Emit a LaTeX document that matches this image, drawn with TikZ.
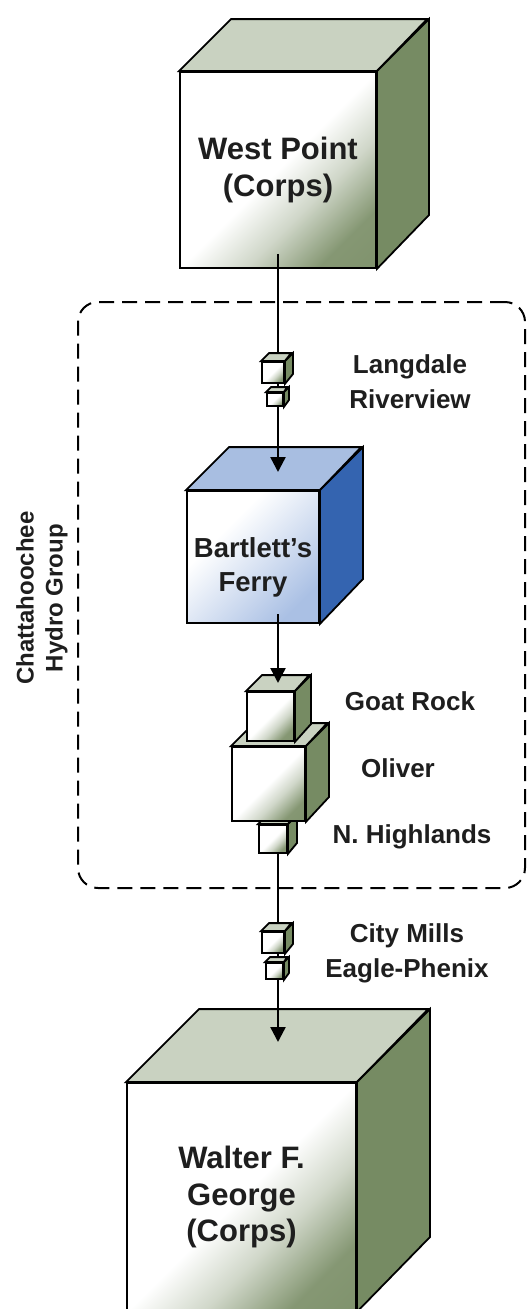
\documentclass[tikz,border=0pt]{standalone}
\usepackage{fontspec}
\setmainfont{Liberation Sans}
\usetikzlibrary{arrows.meta}
\definecolor{gtop}{RGB}{201,210,193}
\definecolor{gside}{RGB}{118,139,99}
\definecolor{gdark}{RGB}{120,140,100}
\definecolor{btop}{RGB}{168,190,225}
\definecolor{bside}{RGB}{52,100,176}
\definecolor{bdark}{RGB}{170,192,228}
\definecolor{ink}{RGB}{30,30,30}
\pgfdeclarehorizontalshading{gshade}{100bp}{color(0bp)=(white); color(25bp)=(white); color(50bp)=(white); color(62bp)=(gdark!35!white); color(75bp)=(gdark!90!white); color(100bp)=(gdark)}
\pgfdeclarehorizontalshading{bshade}{100bp}{color(0bp)=(white); color(25bp)=(white); color(35bp)=(white); color(75bp)=(bdark); color(100bp)=(bdark)}
\tikzset{
  edge/.style={draw=black, line width=1.8pt, line join=miter},
  gfront/.style={edge, shade, shading=gshade, shading angle=-45, inner sep=0pt, text=ink, align=center},
  bfront/.style={edge, shade, shading=bshade, shading angle=-45, inner sep=0pt, text=ink, align=center},
  gtopf/.style={edge, fill=gtop},
  gsidef/.style={edge, fill=gside},
  btopf/.style={edge, fill=btop},
  bsidef/.style={edge, fill=bside},
  flow/.style={draw=black, line width=2.4pt, -{Triangle[width=15pt,length=15pt]}},
  grp/.style={draw=black, line width=2pt, dash pattern=on 15pt off 8pt, rounded corners=20pt, inner sep=0pt},
  lbl/.style={text=ink, align=center, font=\bfseries\fontsize{26}{35}\selectfont, inner sep=0pt},
  bigtxt/.style={font=\bfseries\fontsize{31}{36.5}\selectfont},
  midtxt/.style={font=\bfseries\fontsize{27.5}{34}\selectfont}
}
% #1 name, #2 left, #3 top, #4 width, #5 height, #6 depth, #7 g/b, #8 extra style, #9 text
\newcommand{\mycube}[9]{%
  \node[#7front, #8, minimum width=#4pt, minimum height=#5pt] (#1) at ({#2+#4/2},{#3+#5/2}) {#9};
  \draw[#7topf] (#1.north west) -- ++(#6,-#6) -- ++(#4,0) -- (#1.north east) -- cycle;
  \draw[#7sidef] (#1.north east) -- ++(#6,-#6) -- ++(0,#5) -- (#1.south east) -- cycle;
}
\begin{document}
\begin{tikzpicture}[x=1pt,y=-1pt]
\useasboundingbox (0,0) rectangle (527,1309);
% group box
\node[grp, minimum width=447pt, minimum height=586pt] (chg) at (301.5,595) {};
\node[lbl, font=\bfseries\fontsize{24}{29}\selectfont, rotate=90] (chgl) at (42,598) {Chattahoochee\\Hydro Group};
% big cubes
\mycube{wp}{180}{72}{196}{196}{52}{g}{bigtxt}{West Point\\(Corps)}
\mycube{bf}{187}{491}{132}{132}{43}{b}{midtxt}{\rule{0pt}{40pt}Bartlett’s\\Ferry}
\mycube{wfg}{127}{1083}{229}{228}{73}{g}{bigtxt}{Walter F.\\George\\(Corps)}
% stack
\mycube{nh}{259}{825}{28}{28}{9}{g}{}{}
\mycube{ol}{232}{747}{73}{74}{23}{g}{}{}
\mycube{gr}{247}{692}{47}{49}{16}{g}{}{}
% connectors
\coordinate (bfin) at (278,472);
\coordinate (bfout) at (278,614);
\coordinate (grin) at (278,683);
\coordinate (nhout) at (278,853);
\coordinate (wfin) at (278,1042);
\draw[flow] ([yshift=15pt]wp.south -| bfin) -- (bfin);
\draw[flow] (bfout) -- (grin);
\draw[flow] (nhout) -- (wfin);
% small cubes
\mycube{lg1}{262}{362}{22}{21}{8}{g}{}{}
\mycube{lg2}{267}{393}{16}{13}{5}{g}{}{}
\mycube{cm1}{262}{932}{22}{21}{8}{g}{}{}
\mycube{cm2}{266}{963}{17}{16}{5}{g}{}{}
% labels
\node[lbl] (lgl) at (410,382) {Langdale\\Riverview};
\node[lbl] (grl) at (410,701) {Goat Rock};
\node[lbl] (oll) at (398,768) {Oliver};
\node[lbl] (nhl) at (412,837) {N. Highlands};
\node[lbl] (cml) at (407,953) {City Mills\\Eagle-Phenix};
\end{tikzpicture}
\end{document}
